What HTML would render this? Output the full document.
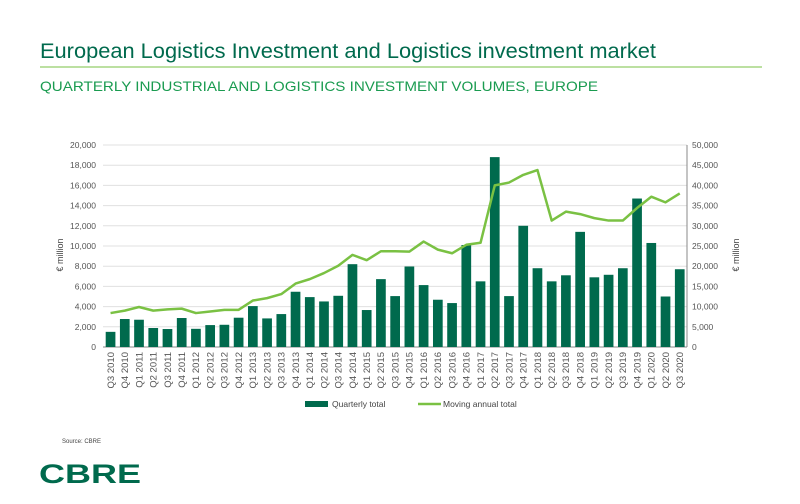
<!DOCTYPE html>
<html><head><meta charset="utf-8"><style>
html,body{margin:0;padding:0;background:#fff;}
svg{display:block;font-family:"Liberation Sans",sans-serif;}
</style></head><body>
<svg id="s" width="800" height="504" viewBox="0 0 800 504" xmlns="http://www.w3.org/2000/svg">
<text x="40" y="58" font-size="21" fill="#006a4d" textLength="616" lengthAdjust="spacingAndGlyphs">European Logistics Investment and Logistics investment market</text>
<line x1="40" y1="67" x2="762" y2="67" stroke="#7ac143" stroke-width="1"/>
<text x="40" y="91" font-size="14" fill="#1a9b50" textLength="558" lengthAdjust="spacingAndGlyphs">QUARTERLY INDUSTRIAL AND LOGISTICS INVESTMENT VOLUMES, EUROPE</text>
<g id="g"></g>
<text x="62" y="443" font-size="6" fill="#444">Source: CBRE</text>
<text x="39" y="483" font-size="27" font-weight="bold" fill="#006a4d" textLength="102" lengthAdjust="spacingAndGlyphs">CBRE</text>
</svg>
<script>
var g=document.getElementById('g'),h='';
var bars=[1.5,2.77,2.7,1.88,1.78,2.87,1.8,2.17,2.2,2.9,4.05,2.83,3.26,5.47,4.94,4.51,5.07,8.2,3.66,6.72,5.04,7.97,6.13,4.68,4.35,10.1,6.5,18.8,5.04,12,7.8,6.5,7.1,11.4,6.9,7.15,7.8,14.7,10.3,5.0,7.7];
var line=[8.4,9.0,9.9,9.0,9.3,9.5,8.4,8.8,9.2,9.2,11.5,12.1,13.1,15.7,16.8,18.3,20.1,22.8,21.5,23.7,23.7,23.6,26.1,24.1,23.2,25.3,25.8,40.0,40.7,42.6,43.8,31.3,33.5,32.9,31.9,31.3,31.3,34.4,37.2,35.8,38.0];
for(var k=0;k<=10;k++){var y=347-k*20.2;
 h+='<line x1="103" x2="687" y1="'+y+'" y2="'+y+'" stroke="'+(k==0?'#888':'#e0e0e0')+'" stroke-width="1"/>';
 h+='<text x="96" y="'+(y+3)+'" font-size="8.5" fill="#555" text-anchor="end">'+(k*2000).toLocaleString('en-US')+'</text>';
 h+='<text x="692" y="'+(y+3)+'" font-size="8.5" fill="#555">'+(k*5000).toLocaleString('en-US')+'</text>';}
h+='<line x1="687" x2="687" y1="145" y2="347" stroke="#888"/>';
h+='<text transform="translate(63,255) rotate(-90)" font-size="9" fill="#444" text-anchor="middle">€ million</text>';
h+='<text transform="translate(739,255) rotate(-90)" font-size="9" fill="#444" text-anchor="middle">€ million</text>';
var pts=[];var q=['Q1','Q2','Q3','Q4'];
for(var i=0;i<41;i++){var x=105.7+i*14.23,c=x+4.85,v=bars[i];
 h+='<rect x="'+x+'" y="'+(347-v*10.1)+'" width="9.7" height="'+(v*10.1)+'" fill="#006a4d"/>';
 pts.push(c+','+(347-line[i]*4.04));
 var qi=(i+2)%4,yr=2010+Math.floor((i+2)/4);
 h+='<text transform="translate('+(c+3.3)+',352) rotate(-90)" font-size="9.5" fill="#555" text-anchor="end">'+q[qi]+' '+yr+'</text>';}
h+='<polyline points="'+pts.join(' ')+'" fill="none" stroke="#7ac143" stroke-width="2.5" stroke-linejoin="round"/>';
h+='<rect x="305" y="401" width="23" height="6" fill="#006a4d"/><text x="332" y="407" font-size="8.5" fill="#444">Quarterly total</text>';
h+='<line x1="418" x2="441" y1="404" y2="404" stroke="#7ac143" stroke-width="2.5"/><text x="443" y="407" font-size="8.5" fill="#444">Moving annual total</text>';
g.innerHTML=h;
</script>
</body></html>
